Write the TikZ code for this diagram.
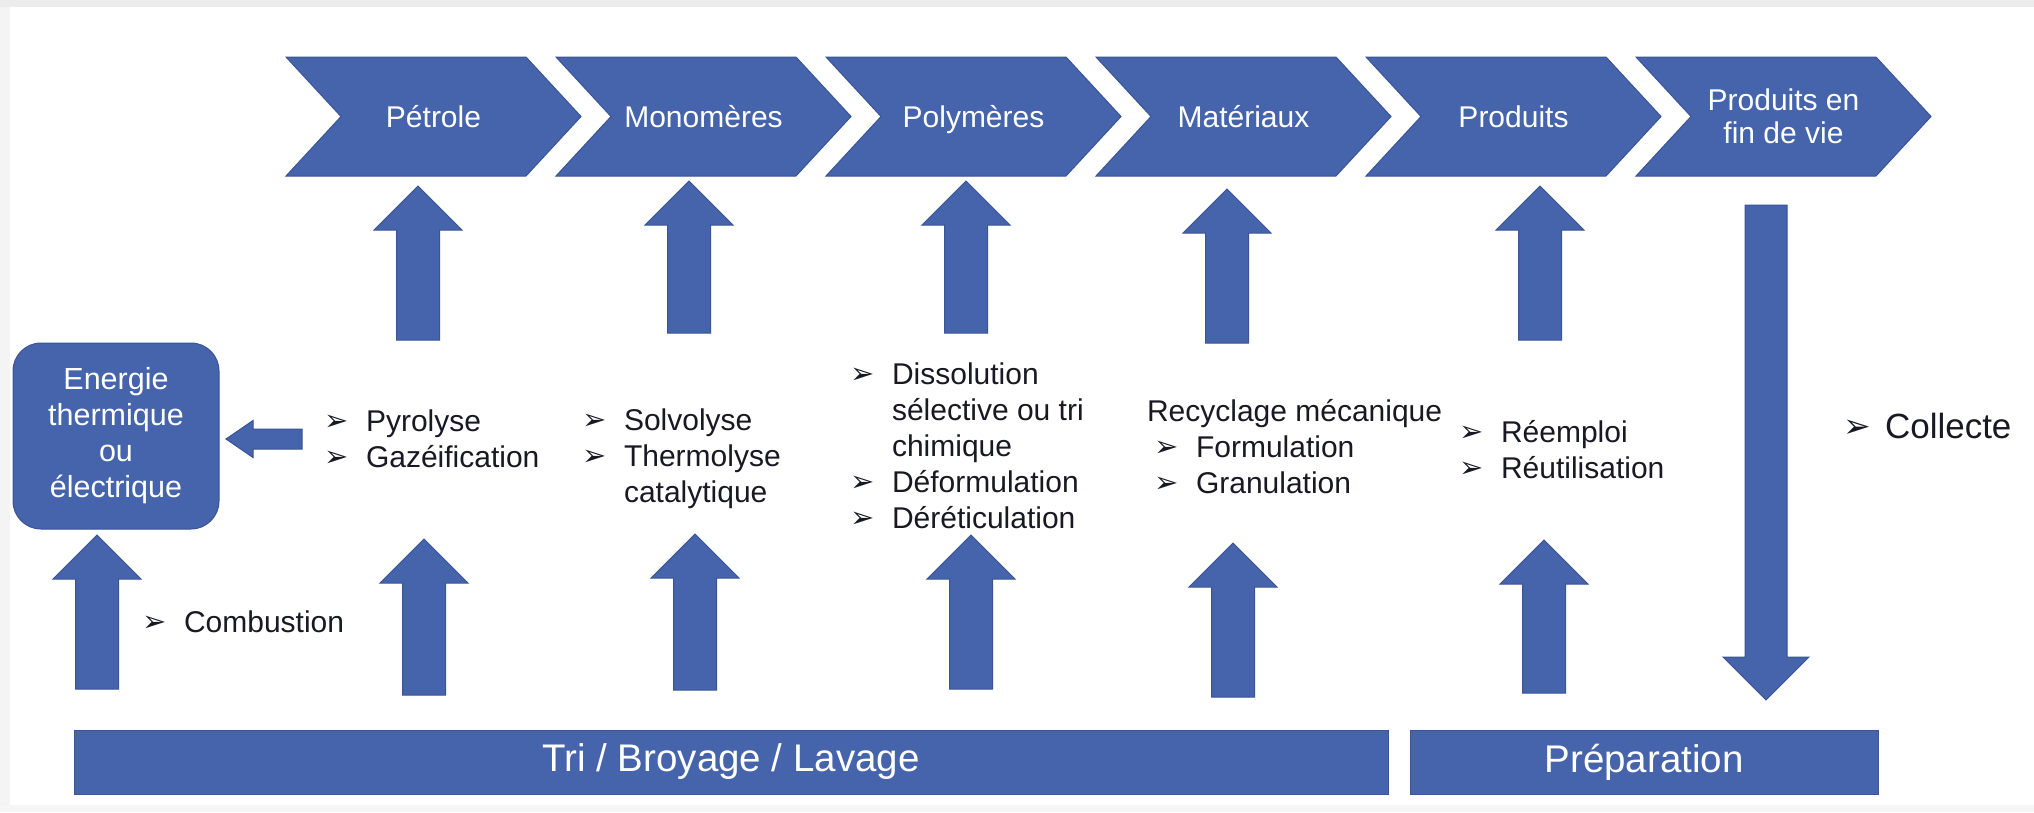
\documentclass[tikz,border=0pt]{standalone}
\usepackage{fontspec}
\setmainfont{Liberation Sans}
\newfontfamily\dvs{DejaVu Sans}
\usetikzlibrary{shapes.symbols,calc}
\definecolor{blu}{RGB}{69,100,172}
\definecolor{bluedge}{RGB}{58,84,150}
\definecolor{txt}{RGB}{25,25,35}
\definecolor{frame}{RGB}{236,236,236}
\newcommand\bulsz{29}
\newcommand\bul{\makebox[42pt][l]{\raisebox{1pt}{\dvs\fontsize{\bulsz}{\bulsz}\selectfont ➢}}}
\newcommand\ind{\hspace*{42pt}}
% #1 tail, #2 tip, #3 shaft half width, #4 head half width, #5 head length
\newcommand\blockarrow[5]{%
  \draw[barrow] ($(#1)!#3!90:(#2)$) -- ($(#2)!#5!(#1)!#3!90:(#2)$)
    -- ($(#2)!#5!(#1)!#4!90:(#2)$) -- (#2)
    -- ($(#2)!#5!(#1)!#4!-90:(#2)$) -- ($(#2)!#5!(#1)!#3!-90:(#2)$)
    -- ($(#1)!#3!-90:(#2)$) -- cycle;}
\begin{document}
\begin{tikzpicture}[x=1pt,y=-1pt,
  every node/.style={inner sep=0pt, outer sep=0pt},
  chev/.style={shape=signal, signal to=east, signal from=west,
    signal pointer angle=94.5, minimum width=295pt, minimum height=119pt,
    fill=blu, draw=bluedge, line width=1pt, text=white, text depth=0pt,
    font=\fontsize{30}{33}\selectfont, align=center},
  bar/.style={fill=blu, draw=bluedge, line width=1pt, text=white,
    font=\fontsize{38.5}{40}\selectfont, minimum height=64pt},
  ebox/.style={fill=blu, draw=bluedge, line width=1pt, text=white,
    rounded corners=28pt, minimum width=206pt, minimum height=186pt,
    font=\fontsize{30.5}{36}\selectfont, align=center},
  barrow/.style={fill=blu, draw=bluedge, line width=1pt, line join=miter},
  lbl/.style={text=txt, font=\fontsize{30}{36}\selectfont, align=left, anchor=base west},
]
\useasboundingbox (0,0) rectangle (2034,812);
\fill[white] (0,0) rectangle (2034,812);
\fill[frame] (0,0) rectangle (2034,7);
\fill[frame!60] (0,7) rectangle (10,812);
\fill[frame!50] (0,805) rectangle (2034,812);

% chevrons
\node[chev] (c1) at (433.5,116.5) {Pétrole};
\node[chev] (c2) at (703.5,116.5) {Monomères};
\node[chev] (c3) at (973.5,116.5) {Polymères};
\node[chev] (c4) at (1243.5,116.5) {Matériaux};
\node[chev] (c5) at (1513.5,116.5) {Produits};
\node[chev] (c6) at (1783.5,116.5) {Produits en\\fin de vie};

% bottom bars
\node[bar, minimum width=1314pt] (tri) at (731,762) {Tri / Broyage / Lavage};
\node[bar, minimum width=468pt] (prep) at (1644,762) {Préparation};

% energy box
\node[ebox] (ener) at (116,436) {Energie\\thermique\\ou\\électrique};

% text blocks (anchored at the baseline of their last line)
\node[lbl] (pyro) at (324,467) {\bul Pyrolyse\\\bul Gazéification};
\node[lbl] (solv) at (582,502) {\bul Solvolyse\\\bul Thermolyse\\\ind catalytique};
\node[lbl] (diss) at (850,528) {\bul Dissolution\\\ind sélective ou tri\\\ind chimique\\\bul Déformulation\\\bul Déréticulation};
\node[lbl] (recy) at (1147,493) {Recyclage mécanique\\\hspace*{7pt}\bul Formulation\\\hspace*{7pt}\bul Granulation};
\node[lbl] (reem) at (1459,478) {\bul Réemploi\\\bul Réutilisation};
\node[lbl, font=\fontsize{35}{40}\selectfont] (coll) at (1843,438) {\renewcommand\bulsz{33}\bul Collecte};
\node[lbl] (comb) at (142,632) {\bul Combustion};

% arrow end points
\coordinate (u1a) at (418,340); \coordinate (u1b) at (418,186);
\coordinate (u2a) at (689,333); \coordinate (u2b) at (689,181);
\coordinate (u3a) at (966,333); \coordinate (u3b) at (966,181);
\coordinate (u4a) at (1227,343); \coordinate (u4b) at (1227,189);
\coordinate (u5a) at (1540,340); \coordinate (u5b) at (1540,186);
\coordinate (da) at (1766,205); \coordinate (db) at (1766,700);
\coordinate (l0a) at (97,689); \coordinate (l0b) at (97,535);
\coordinate (l1a) at (424,695); \coordinate (l1b) at (424,539);
\coordinate (l2a) at (695,690); \coordinate (l2b) at (695,534);
\coordinate (l3a) at (971,689); \coordinate (l3b) at (971,535);
\coordinate (l4a) at (1233,697); \coordinate (l4b) at (1233,543);
\coordinate (l5a) at (1544,693); \coordinate (l5b) at (1544,540);
\coordinate (ha) at (302,439); \coordinate (hb) at (226,439);

\blockarrow{u1a}{u1b}{21.5pt}{44pt}{44pt}
\blockarrow{u2a}{u2b}{21.5pt}{44pt}{44pt}
\blockarrow{u3a}{u3b}{21.5pt}{44pt}{44pt}
\blockarrow{u4a}{u4b}{21.5pt}{44pt}{44pt}
\blockarrow{u5a}{u5b}{21.5pt}{44pt}{44pt}
\blockarrow{da}{db}{21pt}{43pt}{43pt}
\blockarrow{l0a}{l0b}{21.5pt}{44pt}{44pt}
\blockarrow{l1a}{l1b}{21.5pt}{44pt}{44pt}
\blockarrow{l2a}{l2b}{21.5pt}{44pt}{44pt}
\blockarrow{l3a}{l3b}{21.5pt}{44pt}{44pt}
\blockarrow{l4a}{l4b}{21.5pt}{44pt}{44pt}
\blockarrow{l5a}{l5b}{21.5pt}{44pt}{44pt}
\blockarrow{ha}{hb}{10pt}{18.5pt}{27pt}
\end{tikzpicture}
\end{document}
